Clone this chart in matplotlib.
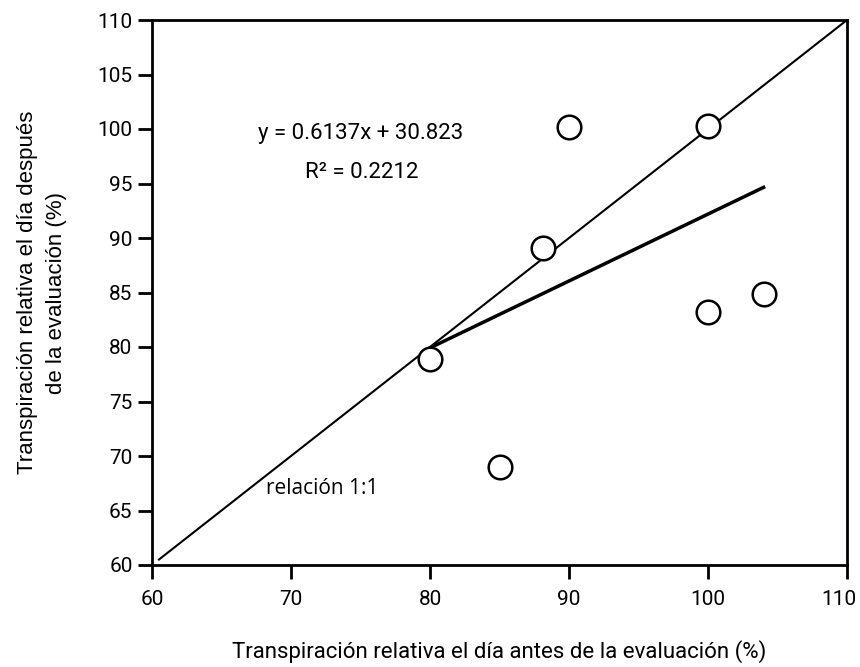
import numpy as np
import matplotlib.pyplot as plt
import matplotlib.transforms as mtransforms

plt.rcParams['font.family'] = ['Roboto', 'DejaVu Sans']

# observed points (relative transpiration, %)
antes = [80, 85, 88.1, 90, 100, 100, 104]
despues = [78.9, 69, 89.1, 100.2, 100.3, 83.2, 84.9]

slope = 0.6137
intercept = 30.823
fit_x = [80, 104]
one_to_one = [60.5, 110]

xticks = [60, 70, 80, 90, 100, 110]
yticks = [60, 65, 70, 75, 80, 85, 90, 95, 100, 105, 110]

fig = plt.figure(figsize=(8.6, 6.67), dpi=100)
ax = fig.add_axes([152 / 860, 102 / 667, 695 / 860, 545 / 667])

ax.plot(one_to_one, one_to_one, color='black', lw=1.5, zorder=2)
fx = np.array(fit_x)
ax.plot(fx, slope * fx + intercept, color='black', lw=2.5, zorder=2)
ax.plot(antes, despues, 'o', ms=17, mfc='white', mec='black', mew=1.8, zorder=3)

ax.set_xlim(60, 110)
ax.set_ylim(60, 110)
ax.set_xticks(xticks)
ax.set_yticks(yticks)
ax.tick_params(direction='out', length=10, width=2, labelsize=15, pad=4)
ax.tick_params(axis='x', pad=8)
for s in ax.spines.values():
    s.set_linewidth(2)

# keep the last x label inside the figure
fig.canvas.draw()
last = ax.get_xticklabels()[-1]
last.set_transform(last.get_transform() + mtransforms.ScaledTranslation(-8 / 100, 0, fig.dpi_scale_trans))

ax.text(75, 99.6, 'y = 0.6137x + 30.823', ha='center', va='center', fontsize=16)
ax.text(75.1, 96.0, 'R² = 0.2212', ha='center', va='center', fontsize=16)
ax.text(68.2, 67.0, 'relación 1:1', ha='left', va='center', fontsize=15,
        family=['Open Sans', 'DejaVu Sans'])

ax.set_xlabel('Transpiración relativa el día antes de la evaluación (%)', fontsize=16, labelpad=22)
ax.set_ylabel('Transpiración relativa el día después\nde la evaluación (%)', fontsize=16,
              labelpad=22, family=['Liberation Sans', 'DejaVu Sans'], linespacing=1.5)

fig.savefig('out.png', dpi=100)
